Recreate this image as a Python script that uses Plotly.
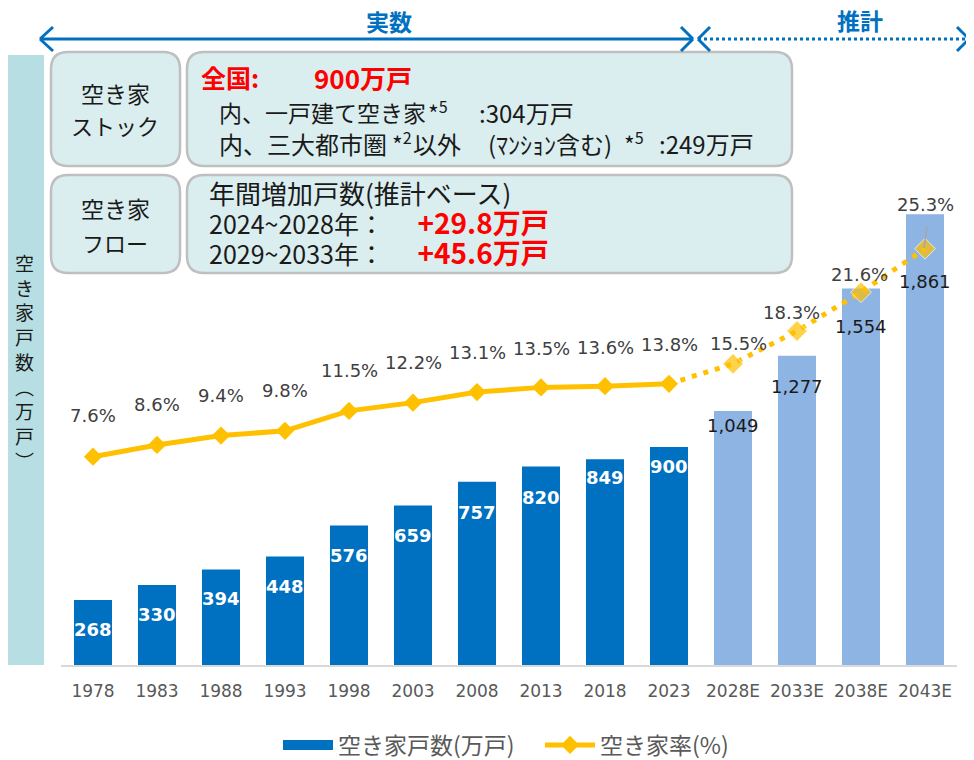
import plotly.graph_objects as go

# ---------------- data ----------------
years = ["1978", "1983", "1988", "1993", "1998", "2003", "2008", "2013", "2018", "2023",
         "2028E", "2033E", "2038E", "2043E"]
vacant_homes = [268, 330, 394, 448, 576, 659, 757, 820, 849, 900, 1049, 1277, 1554, 1861]
vacancy_rate = [7.6, 8.6, 9.4, 9.8, 11.5, 12.2, 13.1, 13.5, 13.6, 13.8, 15.5, 18.3, 21.6, 25.3]
n_actual = 10  # first 10 are actual values, rest are estimates

bar_name = "空き家戸数(万戸)"
line_name = "空き家率(%)"

# ---------------- layout constants ----------------
W, H = 974, 760
OFF = 8                      # page body margin of the browser
ML, MR, MT, MB = 53, 25, 0, 103
PW, PH = W - ML - MR, H - MT - MB
Y_TOP = PH / 0.2422
Y2_RANGE = [-(PH - (546 - OFF)) / 11.75, (546 - OFF) / 11.75]

BLUE = "#0070C0"
LIGHT_BLUE = "#8EB4E3"
GOLD = "#FFC000"
RED = "#FF0000"
FONT = "DejaVu Sans, Noto Sans CJK JP, sans-serif"
JFONT = "Noto Sans CJK JP, DejaVu Sans, sans-serif"
NB = "\u00a0"


def px(x):
    return (x - OFF - ML) / PW


def py(y):
    return (MT + PH - (y - OFF)) / PH


bar_colors = [BLUE if i < n_actual else LIGHT_BLUE for i in range(len(years))]

fig = go.Figure()

fig.add_trace(go.Bar(
    x=years, y=vacant_homes, name=bar_name,
    marker=dict(color=bar_colors, line=dict(width=0)),
    yaxis="y", showlegend=False,
))
# legend proxy for the bars (wide rectangular swatch)
fig.add_trace(go.Scatter(
    x=[None], y=[None], name=bar_name, mode="lines",
    line=dict(color=BLUE, width=16), showlegend=True,
))

# actual rate (solid)
fig.add_trace(go.Scatter(
    x=years[:n_actual], y=vacancy_rate[:n_actual], name=line_name,
    mode="lines+markers", yaxis="y2",
    line=dict(color=GOLD, width=5),
    marker=dict(symbol="diamond", size=14, color=GOLD),
    showlegend=True,
))
# estimated rate (dotted)
fig.add_trace(go.Scatter(
    x=years[n_actual - 1:], y=vacancy_rate[n_actual - 1:], name=line_name,
    mode="lines+markers", yaxis="y2",
    line=dict(color=GOLD, width=5, dash="5px,7px"),
    marker=dict(symbol="diamond", size=[0] + [16] * (len(years) - n_actual), color=GOLD),
    showlegend=False,
))

annotations = []

# bar value labels (x given as category index)
bar_label_shift = [-29, -29, -29, -30, -30, -30, -31, -31, -18, -19, -15, -31, -38, -67]
for i, v in enumerate(vacant_homes):
    if i < n_actual:
        txt_, col = f"<b>{v}</b>", "white"
    else:
        txt_, col = f"{v:,}", "#1a1a1a"
    annotations.append(dict(
        x=i, y=v, xref="x", yref="y", text=txt_, showarrow=False,
        yshift=bar_label_shift[i], yanchor="middle",
        font=dict(size=18, color=col, family=FONT),
    ))

# rate labels
rate_label_shift = [41, 40, 40, 40, 40, 40, 40, 39, 39, 39, 20, 18, 18, 44]
rate_label_xshift = [0] * 10 + [5, -6, -2, 0]
for i, r in enumerate(vacancy_rate):
    annotations.append(dict(
        x=i, y=r, xref="x", yref="y2", text=f"{r}%", showarrow=False,
        yshift=rate_label_shift[i], xshift=rate_label_xshift[i], yanchor="middle",
        font=dict(size=18, color="#404040", family=FONT),
    ))


def txt(x, y, text, size=24, color="#1a1a1a", anchor="left", family=JFONT, yanchor="middle",
        align="left"):
    annotations.append(dict(
        x=px(x), y=py(y), xref="paper", yref="paper", text=text, showarrow=False,
        xanchor=anchor, yanchor=yanchor, borderpad=0, align=align,
        font=dict(size=size, color=color, family=family),
    ))


# header labels
txt(389, 21, "<b>実数</b>", size=23, color=BLUE, anchor="center")
txt(860, 20, "<b>推計</b>", size=23, color=BLUE, anchor="center")

# box texts
txt(115, 93, "空き家", size=23, anchor="center")
txt(115, 125, "ストック", size=22, anchor="center")
txt(115, 208, "空き家", size=23, anchor="center")
txt(115, 242, "フロー", size=22, anchor="center")

txt(200, 77, "<b>全国:</b>", size=25, color=RED)
txt(313, 77, "<b>900万戸</b>", size=26, color=RED)
txt(218, 112, "内、一戸建て空き家", size=23)
txt(427, 112, "*<sup>5</sup>", size=23)
txt(478, 112, ":304万戸", size=24)
txt(218, 143, "内、三大都市圏", size=24)
txt(391, 143, "*<sup>2</sup>", size=23)
txt(412, 143, "以外", size=24)
txt(487, 143, "(ﾏﾝｼｮﾝ含む)", size=24)
txt(623, 143, "*<sup>5</sup>", size=23)
txt(658, 143, ":249万戸", size=24)

# flow box: one multi-line text
red_span = "<span style='font-size:28px;color:" + RED + "'><b>{}</b></span>"
flow_text = (
    "<span style='font-size:26px'>年間増加戸数(推計ベース)</span><br>"
    "<span style='font-size:25px'>2024~2028年：" + NB * 6 + "</span>" + red_span.format("+29.8万戸") + "<br>"
    "<span style='font-size:25px'>2029~2033年：" + NB * 6 + "</span>" + red_span.format("+45.6万戸")
)
txt(208, 223, flow_text, size=23)

# vertical y-axis title, one glyph per line
txt(24, 361, "<br>".join(list("空き家戸数︵万戸︶")), size=19, anchor="center", align="center")

# ---------------- shapes ----------------
shapes = []


def line(x0, y0, x1, y1, color=BLUE, width=3, dash="solid"):
    shapes.append(dict(type="line", xref="paper", yref="paper",
                       x0=px(x0), y0=py(y0), x1=px(x1), y1=py(y1),
                       line=dict(color=color, width=width, dash=dash)))


def rrect(x0, y0, x1, y1, r, fill="#DAEEF0", border="#BFBFBF"):
    X = lambda v: f"{px(v):.5f}"
    Y = lambda v: f"{py(v):.5f}"
    path = (f"M {X(x0 + r)},{Y(y0)} L {X(x1 - r)},{Y(y0)} Q {X(x1)},{Y(y0)} {X(x1)},{Y(y0 + r)} "
            f"L {X(x1)},{Y(y1 - r)} Q {X(x1)},{Y(y1)} {X(x1 - r)},{Y(y1)} "
            f"L {X(x0 + r)},{Y(y1)} Q {X(x0)},{Y(y1)} {X(x0)},{Y(y1 - r)} "
            f"L {X(x0)},{Y(y0 + r)} Q {X(x0)},{Y(y0)} {X(x0 + r)},{Y(y0)} Z")
    shapes.append(dict(type="path", xref="paper", yref="paper", path=path,
                       fillcolor=fill, line=dict(color=border, width=2.5), layer="below"))


# left strip
shapes.append(dict(type="rect", xref="paper", yref="paper",
                   x0=px(6), x1=px(44), y0=py(55), y1=py(665),
                   fillcolor="#B7DEE2", line=dict(width=0), layer="below"))

rrect(51, 52, 180, 166, 17)
rrect(187, 52, 792, 166, 17)
rrect(51, 175, 180, 273, 17)
rrect(187, 175, 792, 273, 17)

# top arrows
line(40, 39, 693, 39)
line(53, 27, 40, 39)
line(53, 51, 40, 39)
line(681, 27, 693, 39)
line(681, 51, 693, 39)
line(698, 39, 969, 39, dash="dot")
line(710, 27, 698, 39)
line(710, 51, 698, 39)
line(957, 27, 969, 39)
line(957, 51, 969, 39)

# leader line at last rate label
line(927, 227, 924, 248, color="#A6A6A6", width=1.5)

fig.update_layout(
    width=W, height=H,
    margin=dict(l=ML, r=MR, t=MT, b=MB),
    paper_bgcolor="white", plot_bgcolor="white",
    bargap=0.406,
    font=dict(family=FONT, color="#595959"),
    xaxis=dict(type="category", range=[-0.5, len(years) - 0.5],
               showline=True, linecolor="#D9D9D9", linewidth=2,
               showgrid=False, ticks="", tickfont=dict(size=17, color="#595959"),
               ticklabelstandoff=10, fixedrange=True),
    yaxis=dict(range=[0, Y_TOP], visible=False, showgrid=False, fixedrange=True),
    yaxis2=dict(range=Y2_RANGE, overlaying="y", visible=False, showgrid=False,
                fixedrange=True),
    legend=dict(orientation="h", x=px(278), xanchor="left", y=py(745), yanchor="middle",
                font=dict(size=23, color="#595959", family=JFONT),
                bgcolor="rgba(0,0,0,0)", itemwidth=50, entrywidth=197),
    annotations=annotations,
    shapes=shapes,
)

fig.write_html("out.html")
